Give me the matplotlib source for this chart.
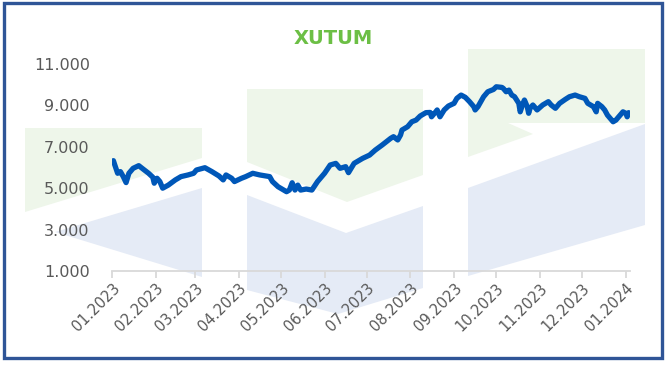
import matplotlib
matplotlib.use("Agg")
import matplotlib.pyplot as plt
import matplotlib.dates as mdates
from matplotlib.patches import Polygon, Rectangle
import pandas as pd

# XUTUM index levels
dates = [
    "2023-01-02", "2023-01-03", "2023-01-05", "2023-01-07", "2023-01-09", "2023-01-11",
    "2023-01-13", "2023-01-16", "2023-01-20", "2023-01-23", "2023-01-27", "2023-01-30",
    "2023-01-31", "2023-02-02", "2023-02-04", "2023-02-06", "2023-02-10", "2023-02-15",
    "2023-02-19", "2023-02-24", "2023-02-28", "2023-03-02", "2023-03-08", "2023-03-13",
    "2023-03-18", "2023-03-21", "2023-03-23", "2023-03-27", "2023-03-29", "2023-04-03",
    "2023-04-06", "2023-04-11", "2023-04-16", "2023-04-23", "2023-04-25", "2023-04-29",
    "2023-05-05", "2023-05-07", "2023-05-09", "2023-05-11", "2023-05-13", "2023-05-15",
    "2023-05-19", "2023-05-23", "2023-05-27", "2023-06-01", "2023-06-05", "2023-06-09",
    "2023-06-12", "2023-06-16", "2023-06-18", "2023-06-22", "2023-06-28", "2023-07-03",
    "2023-07-07", "2023-07-12", "2023-07-15", "2023-07-18", "2023-07-20", "2023-07-23",
    "2023-07-25", "2023-07-26", "2023-07-30", "2023-08-02", "2023-08-05", "2023-08-08",
    "2023-08-12", "2023-08-15", "2023-08-16", "2023-08-19", "2023-08-20", "2023-08-22",
    "2023-08-25", "2023-08-28", "2023-09-01", "2023-09-03", "2023-09-06", "2023-09-09",
    "2023-09-12", "2023-09-15", "2023-09-16", "2023-09-18", "2023-09-22", "2023-09-25",
    "2023-09-29", "2023-10-01", "2023-10-05", "2023-10-06", "2023-10-08", "2023-10-10",
    "2023-10-12", "2023-10-14", "2023-10-17", "2023-10-18", "2023-10-20", "2023-10-21",
    "2023-10-23", "2023-10-24", "2023-10-25", "2023-10-27", "2023-10-30", "2023-11-03",
    "2023-11-07", "2023-11-09", "2023-11-12", "2023-11-15", "2023-11-19", "2023-11-22",
    "2023-11-26", "2023-11-29", "2023-12-03", "2023-12-05", "2023-12-09", "2023-12-11",
    "2023-12-12", "2023-12-15", "2023-12-17", "2023-12-19", "2023-12-23", "2023-12-25",
    "2023-12-28", "2023-12-30", "2024-01-01", "2024-01-02", "2024-01-03",
]
values = [
    6330, 6120, 5720, 5800, 5560, 5270,
    5720, 5960, 6090, 5930, 5720, 5530,
    5240, 5480, 5320, 5000, 5150, 5400,
    5560, 5640, 5720, 5880, 5990, 5800,
    5590, 5400, 5640, 5480, 5320, 5480,
    5560, 5720, 5640, 5560, 5320, 5070,
    4830, 4910, 5265, 4910, 5150, 4910,
    4960, 4910, 5320, 5720, 6120, 6200,
    5960, 6040, 5750, 6200, 6440, 6600,
    6840, 7090, 7250, 7410, 7490, 7330,
    7570, 7810, 7970, 8210, 8290, 8490,
    8650, 8660, 8450, 8690, 8780, 8450,
    8780, 8970, 9100, 9340, 9500, 9390,
    9180, 8940, 8780, 8940, 9420, 9660,
    9770, 9900, 9870, 9820, 9660, 9740,
    9500, 9420, 9100, 8690, 9100, 9260,
    8940, 8620, 8860, 9020, 8780, 9020,
    9180, 9020, 8860, 9100, 9290, 9420,
    9500, 9420, 9340, 9100, 8940, 8690,
    9100, 8940, 8780, 8530, 8210, 8290,
    8530, 8690, 8620, 8450, 8650,
]
yticks = [1000, 3000, 5000, 7000, 9000, 11000]
ytick_labels = ["1.000", "3.000", "5.000", "7.000", "9.000", "11.000"]

W, H = 667, 365
fig = plt.figure(figsize=(W / 100, H / 100), dpi=100)

# background logo watermark + frame, drawn in pixel space
bg = fig.add_axes([0, 0, 1, 1], zorder=0)
bg.set_xlim(0, W)
bg.set_ylim(H, 0)
bg.axis("off")
green = "#eef6ea"
blue = "#e5ebf6"
shapes = [
    ([(25, 128), (202, 128), (202, 158), (25, 212)], green),
    ([(55, 232), (202, 188), (202, 277)], blue),
    ([(247, 89), (423, 89), (423, 175), (347, 202), (247, 162)], green),
    ([(247, 195), (346, 233), (423, 206), (423, 288), (338, 314), (247, 290)], blue),
    ([(468, 49), (645, 49), (645, 123), (508, 123), (533, 134), (468, 157)], green),
    ([(468, 188), (645, 124), (645, 225), (468, 276)], blue),
]
for pts, col in shapes:
    bg.add_patch(Polygon(pts, closed=True, facecolor=col, edgecolor="none"))
bg.add_patch(Rectangle((4, 3), 658, 355, fill=False, edgecolor="#2f5597", lw=2.4))

ax = fig.add_axes([112 / W, 1 - 271 / H, (630 - 112) / W, (271 - 64) / H], zorder=1)
ax.patch.set_alpha(0)

x = pd.to_datetime(dates)
ax.plot(x, values, color="#0057b8", lw=3.8, solid_capstyle="round", solid_joinstyle="round")

ax.set_ylim(1000, 11000)
ax.set_xlim(pd.Timestamp("2023-01-01"), pd.Timestamp("2024-01-04"))
ax.set_yticks(yticks)
ax.set_yticklabels(ytick_labels)
ax.xaxis.set_major_locator(mdates.MonthLocator())
ax.xaxis.set_major_formatter(mdates.DateFormatter("%m.%Y"))

for s in ["top", "right", "left"]:
    ax.spines[s].set_visible(False)
ax.spines["bottom"].set_color("#d9d9d9")
ax.spines["bottom"].set_linewidth(1.3)
ax.tick_params(axis="y", length=0, pad=16, labelsize=11.5, labelcolor="#595959")
ax.tick_params(axis="x", length=5, width=1.3, color="#d9d9d9", pad=2,
               labelsize=10.5, labelcolor="#595959")
for lbl in ax.get_xticklabels():
    lbl.set_rotation(45)
    lbl.set_ha("right")
    lbl.set_rotation_mode("anchor")

fig.text(333 / W, 1 - 38 / H, "XUTUM", ha="center", va="center",
         fontsize=14, fontweight="bold", color="#6cbf45")

fig.savefig("out.png", dpi=100)
